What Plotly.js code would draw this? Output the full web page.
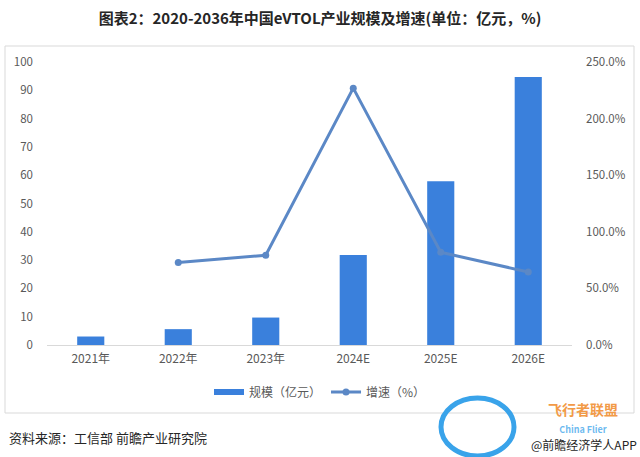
<!DOCTYPE html>
<html>
<head>
<meta charset="utf-8">
<script src="https://cdn.plot.ly/plotly-3.0.1.min.js"></script>
<style>html,body{margin:0;padding:0;background:#fff;}#chart{width:640px;height:457px;}</style>
</head>
<body>
<div id="chart"></div>
<script>
const categories = ["2021年", "2022年", "2023年", "2024E", "2025E", "2026E"];
const scaleValues = [3.0, 5.6, 9.7, 31.8, 57.9, 94.7];          // 规模（亿元）
const growthValues = [null, 0.728, 0.793, 2.269, 0.819, 0.645];  // 增速（%）
const leftTicks = [0, 10, 20, 30, 40, 50, 60, 70, 80, 90, 100];
const rightTicks = [0, 0.5, 1.0, 1.5, 2.0, 2.5];

const FONT = '"Noto Sans CJK SC", "Noto Sans", sans-serif';
const GREY = '#595959';
const BAR = '#3A80DC';
const LINE = '#5B88C6';

// plot area: x 47..572, y 62..345
const L = 47, R = 572, T = 62, B = 345;
const W = R - L, H = B - T;
const px = x => (x - L) / W;
const py = y => (B - y) / H;

const traces = [
  {
    type: 'bar', name: '规模（亿元）', x: categories, y: scaleValues,
    marker: {color: BAR}, yaxis: 'y', hoverinfo: 'skip', showlegend: false
  },
  {
    // legend swatch for the bars (wide flat rectangle as in the reference)
    type: 'scatter', mode: 'lines', name: '规模（亿元）', x: [null], y: [null],
    line: {color: BAR, width: 6}, yaxis: 'y', hoverinfo: 'skip', showlegend: true
  },
  {
    type: 'scatter', mode: 'lines+markers', name: '增速（%）', x: categories, y: growthValues,
    line: {color: LINE, width: 3}, marker: {color: LINE, size: 7},
    yaxis: 'y2', connectgaps: false, hoverinfo: 'skip'
  }
];

const layout = {
  width: 640, height: 457,
  paper_bgcolor: '#fff', plot_bgcolor: '#fff',
  margin: {l: L, r: 640 - R, t: T, b: 457 - B, pad: 0},
  font: {family: FONT, color: GREY, size: 11},
  title: {
    text: '<b>图表2：2020-2036年中国eVTOL产业规模及增速(单位：亿元，%)</b>',
    font: {family: FONT, size: 15, color: '#262626'},
    x: 0.5, xanchor: 'center', y: 1 - 19 / 457, yanchor: 'middle', yref: 'container'
  },
  bargap: 0.69,
  showlegend: true,
  legend: {
    orientation: 'h', x: px(320), xanchor: 'center', y: py(392), yanchor: 'middle',
    font: {family: FONT, size: 12, color: GREY}, traceorder: 'normal'
  },
  xaxis: {
    type: 'category', showgrid: false, zeroline: false,
    showline: true, linecolor: '#d9d9d9', linewidth: 1,
    ticks: '', tickfont: {family: FONT, size: 12, color: GREY}, ticklabelstandoff: 3
  },
  yaxis: {
    range: [0, 100], tickvals: leftTicks, showgrid: false, zeroline: false,
    showline: false, ticks: '', tickfont: {family: FONT, size: 11.5, color: GREY},
    ticklabelstandoff: 13
  },
  yaxis2: {
    range: [0, 2.5], tickvals: rightTicks, tickformat: '.1%', overlaying: 'y', side: 'right',
    showgrid: false, zeroline: false, showline: false, ticks: '',
    tickfont: {family: FONT, size: 11.5, color: GREY}, ticklabelstandoff: 13
  },
  shapes: [
    {type: 'rect', xref: 'paper', yref: 'paper', x0: px(5), x1: px(634), y0: py(413), y1: py(46),
     line: {color: '#d9d9d9', width: 1}, fillcolor: 'rgba(0,0,0,0)', layer: 'below'},
    {type: 'circle', xref: 'paper', yref: 'paper', x0: px(441), x1: px(514), y0: py(456), y1: py(398),
     line: {color: '#39A3EA', width: 5}, fillcolor: 'rgba(0,0,0,0)'}
  ],
  annotations: [
    {text: '资料来源：工信部 前瞻产业研究院', xref: 'paper', yref: 'paper', x: px(7), y: py(437),
     xanchor: 'left', yanchor: 'middle', showarrow: false, font: {family: FONT, size: 13, color: '#262626'}},
    {text: '<b>飞行者联盟</b><br><b><span style="font-size:9px;color:rgba(57,163,234,0.75)">China Flier</span></b>',
     xref: 'paper', yref: 'paper', x: px(583), y: py(417), align: 'center', borderpad: 0,
     xanchor: 'center', yanchor: 'middle', showarrow: false, font: {family: FONT, size: 14, color: '#F29A47'}},
    {text: '@前瞻经济学人APP', xref: 'paper', yref: 'paper', x: px(638), y: py(444), borderpad: 0,
     xanchor: 'right', yanchor: 'middle', showarrow: false, font: {family: FONT, size: 12, color: '#262626'}}
  ]
};

Plotly.newPlot('chart', traces, layout, {staticPlot: true, displayModeBar: false});
</script>
</body>
</html>
